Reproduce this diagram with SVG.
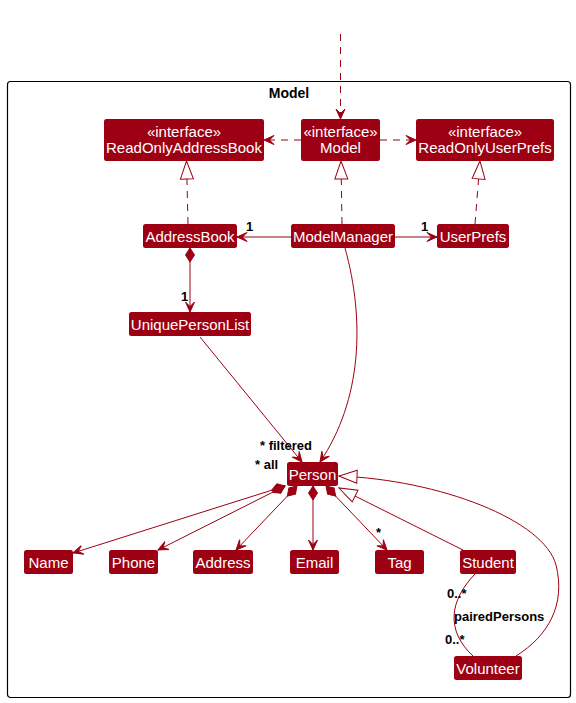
<svg xmlns="http://www.w3.org/2000/svg" width="576" height="703" viewBox="0 0 576 703">
<style>
.box{fill:#9D0012;}
.cn{font-family:"Liberation Sans",Arial,sans-serif;font-size:15px;fill:#FFFFFF;text-anchor:middle;}
.lbl{font-family:"Liberation Sans",Arial,sans-serif;font-size:13px;font-weight:bold;fill:#000000;}
.ln{fill:none;stroke:#9D0012;stroke-width:1;}
.dash{stroke-dasharray:7,6;}
</style>
<defs>
<marker id="arr" markerUnits="userSpaceOnUse" markerWidth="12" markerHeight="12" refX="10" refY="5" orient="auto" overflow="visible">
<path d="M0,0.5 L10,5 L0,9.5 L4.5,5 Z" fill="#9D0012" stroke="#9D0012" stroke-width="1"/>
</marker>
<marker id="tri" markerUnits="userSpaceOnUse" markerWidth="20" markerHeight="16" refX="18" refY="7" orient="auto" overflow="visible">
<path d="M0,0.5 L18,7 L0,13.5 Z" fill="#FFFFFF" stroke="#9D0012" stroke-width="1"/>
</marker>
<marker id="dia" markerUnits="userSpaceOnUse" markerWidth="16" markerHeight="12" refX="0" refY="5" orient="auto" overflow="visible">
<path d="M0,5 L7,0.5 L14,5 L7,9.5 Z" fill="#9D0012" stroke="#9D0012" stroke-width="1"/>
</marker>
</defs>

<g id="frame-Model">
<rect x="7.5" y="81.5" width="563" height="616" rx="3" fill="none" stroke="#000000" stroke-width="1.2"/>
<text x="289" y="98" style="font-family:'Liberation Sans',Arial,sans-serif;font-size:14px;font-weight:bold;fill:#000;text-anchor:middle;">Model</text>
</g>

<g id="connectors">
<path class="ln dash" d="M340.5,34 L340.5,119" marker-end="url(#arr)"/>
<path class="ln dash" d="M301,140 L264,140" marker-end="url(#arr)"/>
<path class="ln dash" d="M380,140 L416,140" marker-end="url(#arr)"/>
<path class="ln dash" d="M188,224 L186.5,161" marker-end="url(#tri)"/>
<path class="ln dash" d="M342,224 L341,161" marker-end="url(#tri)"/>
<path class="ln dash" d="M475,224 L480,161" marker-end="url(#tri)"/>
<path class="ln" d="M291,237 L237,237" marker-end="url(#arr)"/>
<path class="ln" d="M395,237 L437,237" marker-end="url(#arr)"/>
<path class="ln" d="M190,248 L190,312" marker-start="url(#dia)" marker-end="url(#arr)"/>
<path class="ln" d="M200,337 L302,462" marker-end="url(#arr)"/>
<path class="ln" d="M345,248 C365,320 362,400 320,462" marker-end="url(#arr)"/>
<path class="ln" d="M285,486 L73,553" marker-start="url(#dia)" marker-end="url(#arr)"/>
<path class="ln" d="M285,486 L158,550" marker-start="url(#dia)" marker-end="url(#arr)"/>
<path class="ln" d="M297,486 L236,550" marker-start="url(#dia)" marker-end="url(#arr)"/>
<path class="ln" d="M313,486 L313,550" marker-start="url(#dia)" marker-end="url(#arr)"/>
<path class="ln" d="M326,486 L387,550" marker-start="url(#dia)" marker-end="url(#arr)"/>
<path class="ln" d="M463,550 L339,488" marker-end="url(#tri)"/>
<path class="ln" d="M516,656 C548,636 566,605 556,565 C544,520 440,480 339,476" marker-end="url(#tri)"/>
<path class="ln" d="M475,574 C450,600 445,630 473,656"/>
<text class="lbl" x="246" y="231">1</text>
<text class="lbl" x="421" y="231">1</text>
<text class="lbl" x="181" y="301">1</text>
<text class="lbl" x="260" y="450">* filtered</text>
<text class="lbl" x="255" y="469">* all</text>
<text class="lbl" x="376" y="537">*</text>
<text class="lbl" x="447" y="598">0..*</text>
<text class="lbl" x="454" y="621">pairedPersons</text>
<text class="lbl" x="445" y="644">0..*</text>
</g>

<g id="ReadOnlyAddressBook">
<rect class="box" x="104" y="119" width="160" height="42" rx="2.5"/>
<text class="cn" x="184" y="136.5">«interface»</text>
<text class="cn" x="184" y="152.5">ReadOnlyAddressBook</text>
</g>
<g id="Model">
<rect class="box" x="301" y="119" width="79" height="42" rx="2.5"/>
<text class="cn" x="340.5" y="136.5">«interface»</text>
<text class="cn" x="340.5" y="152.5">Model</text>
</g>
<g id="ReadOnlyUserPrefs">
<rect class="box" x="416" y="119" width="138" height="42" rx="2.5"/>
<text class="cn" x="485" y="136.5">«interface»</text>
<text class="cn" x="485" y="152.5">ReadOnlyUserPrefs</text>
</g>
<g id="AddressBook">
<rect class="box" x="143" y="224" width="94" height="24" rx="2.5"/>
<text class="cn" x="190" y="241.5">AddressBook</text>
</g>
<g id="ModelManager">
<rect class="box" x="291" y="224" width="104" height="24" rx="2.5"/>
<text class="cn" x="343" y="241.5">ModelManager</text>
</g>
<g id="UserPrefs">
<rect class="box" x="437" y="224" width="72" height="24" rx="2.5"/>
<text class="cn" x="473" y="241.5">UserPrefs</text>
</g>
<g id="UniquePersonList">
<rect class="box" x="129" y="312" width="122" height="24" rx="2.5"/>
<text class="cn" x="190" y="329.5">UniquePersonList</text>
</g>
<g id="Person">
<rect class="box" x="287" y="462" width="51" height="24" rx="2.5"/>
<text class="cn" x="312.5" y="479.5">Person</text>
</g>
<g id="Name">
<rect class="box" x="24" y="550" width="49" height="24" rx="2.5"/>
<text class="cn" x="48.5" y="567.5">Name</text>
</g>
<g id="Phone">
<rect class="box" x="109" y="550" width="49" height="24" rx="2.5"/>
<text class="cn" x="133.5" y="567.5">Phone</text>
</g>
<g id="Address">
<rect class="box" x="193" y="550" width="60" height="24" rx="2.5"/>
<text class="cn" x="223" y="567.5">Address</text>
</g>
<g id="Email">
<rect class="box" x="290" y="550" width="49" height="24" rx="2.5"/>
<text class="cn" x="314.5" y="567.5">Email</text>
</g>
<g id="Tag">
<rect class="box" x="375" y="550" width="49" height="24" rx="2.5"/>
<text class="cn" x="399.5" y="567.5">Tag</text>
</g>
<g id="Student">
<rect class="box" x="460" y="550" width="56" height="24" rx="2.5"/>
<text class="cn" x="488" y="567.5">Student</text>
</g>
<g id="Volunteer">
<rect class="box" x="454" y="656" width="68" height="24" rx="2.5"/>
<text class="cn" x="488" y="673.5">Volunteer</text>
</g>
</svg>
